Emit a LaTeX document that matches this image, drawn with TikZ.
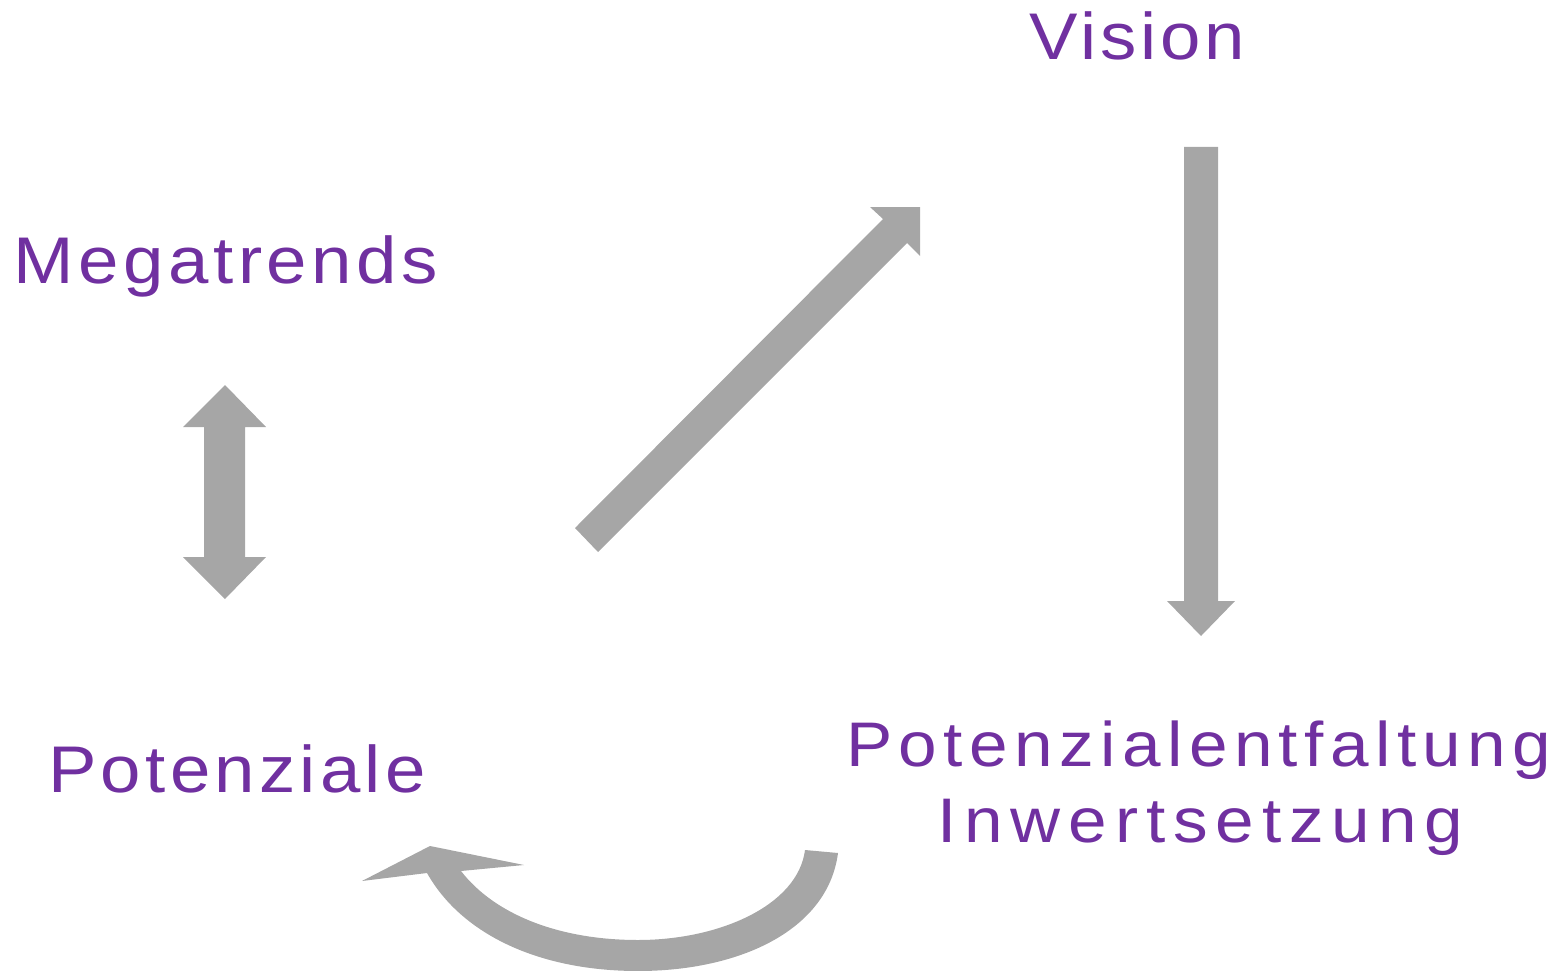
\documentclass[tikz,border=0pt]{standalone}
\usepackage{fontspec}
\setmainfont{Liberation Sans}[FakeStretch=1.1]
\definecolor{lblpurple}{HTML}{7030A0}
\definecolor{arrgrey}{HTML}{A6A6A6}
\tikzset{
  lbl/.style={text=lblpurple, inner sep=0pt, anchor=base west, font=\fontsize{66}{70}\selectfont},
  arrshape/.style={fill=arrgrey, draw=none}
}
\begin{document}
\begin{tikzpicture}[x=1pt,y=-1pt]
\useasboundingbox (0,0) rectangle (1561,971);
% labels
\node[lbl] (vision) at (1029,60) {\addfontfeatures{LetterSpace=6}Vision};
\node[lbl] (mega) at (13,283) {\addfontfeatures{LetterSpace=7}Megatrends};
\node[lbl] (pot) at (48,792) {\addfontfeatures{LetterSpace=6.5}Potenziale};
\node[lbl, font=\fontsize{63}{67}\selectfont] (entf) at (846,766) {\addfontfeatures{LetterSpace=10.2}Potenzialentfaltung};
\node[lbl, font=\fontsize{63}{67}\selectfont] (inw) at (937,842) {\addfontfeatures{LetterSpace=12.5}Inwertsetzung};
% double arrow Megatrends <-> Potenziale
\coordinate (dtop) at (225,385);
\coordinate (dbot) at (225,599);
\fill[arrshape] (dtop) -- (266,427) -- (245,427) -- (245,557) -- (266,557) -- (dbot)
  -- (183,557) -- (204,557) -- (204,427) -- (183,427) -- cycle;
% diagonal arrow Potenziale -> Vision
\coordinate (diagtail) at (586,540);
\coordinate (diagtip) at (920,207);
\fill[arrshape] (575,528) -- (883,219) -- (870,207) -- (diagtip) -- (920,256) -- (907,243) -- (598,552) -- cycle;
% vertical arrow Vision -> Potenzialentfaltung
\coordinate (vtail) at (1201,147);
\coordinate (vtip) at (1201,636);
\fill[arrshape] (1184,147) -- (1218,147) -- (1218,601) -- (1235,601) -- (vtip) -- (1167,601) -- (1184,601) -- cycle;
% curved arrow Inwertsetzung -> Potenziale
\coordinate (ctail) at (821,851);
\coordinate (ctip) at (362,881);
\fill[arrshape] (805,850) -- (838,853)
  .. controls (828,930) and (740,971) .. (638,971)
  .. controls (540,971) and (462,935) .. (427,873)
  -- (ctip) -- (430,846) -- (524,865) -- (461,871)
  .. controls (495,915) and (560,940) .. (638,940)
  .. controls (720,940) and (798,905) .. (805,850) -- cycle;
\end{tikzpicture}
\end{document}
